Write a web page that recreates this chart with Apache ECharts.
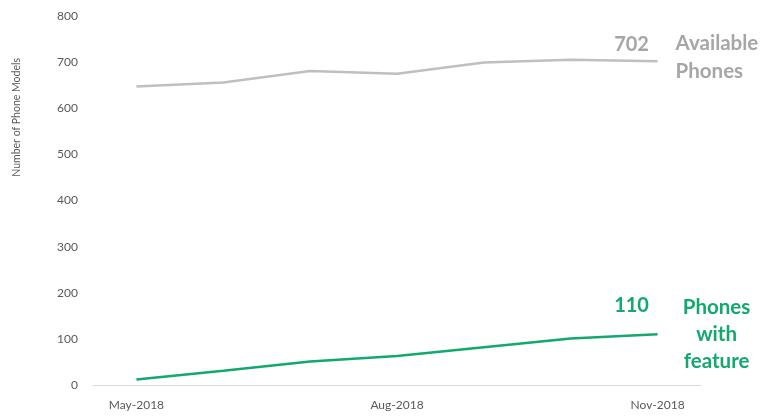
<!DOCTYPE html>
<html>
<head>
<meta charset="utf-8">
<script src="https://cdn.jsdelivr.net/npm/echarts@6/dist/echarts.min.js"></script>
<style>
html, body { margin: 0; padding: 0; background: #fff; }
#main { width: 767px; height: 419px; }
</style>
</head>
<body>
<div id="main"></div>
<script>
var months = ['May-2018', 'Jun-2018', 'Jul-2018', 'Aug-2018', 'Sep-2018', 'Oct-2018', 'Nov-2018'];
var available = [647, 656, 681, 675, 699, 705, 702];
var withFeature = [12, 31, 51, 63, 82, 101, 110];

var grey = '#bfbfbf';
var green = '#12a86e';
var font = 'Lato';

// number shown just above the last point of a series
function lastValueMark(arr, color, dy) {
    var i = arr.length - 1;
    return {
        symbol: 'circle',
        symbolSize: 0,
        silent: true,
        label: {
            show: true, position: 'top', offset: [-26, dy],
            color: color, fontFamily: font, fontWeight: 'bold', fontSize: 20
        },
        data: [{ coord: [months[i], arr[i]], value: arr[i] }]
    };
}

var myChart = echarts.init(document.getElementById('main'));
var option = {
    animation: false,
    grid: { left: 93, right: 66, top: 16, bottom: 34 },
    graphic: [{
        type: 'text',
        left: 11, top: 58,
        rotation: Math.PI / 2,
        style: {
            text: 'Number of Phone Models',
            fill: '#595959', fontFamily: font, fontSize: 10.5
        }
    }],
    xAxis: {
        type: 'category',
        data: months,
        axisLine: { lineStyle: { color: '#d9d9d9', width: 1 } },
        axisTick: { show: false },
        axisLabel: { interval: 2, color: '#595959', fontFamily: font, fontSize: 12, margin: 14 }
    },
    yAxis: {
        type: 'value',
        min: 0, max: 800, interval: 100,
        splitLine: { show: false },
        axisLine: { show: false },
        axisTick: { show: false },
        axisLabel: { color: '#595959', fontFamily: font, fontSize: 12, margin: 15 }
    },
    series: [{
        name: 'Available Phones',
        type: 'line',
        data: available,
        symbol: 'none',
        lineStyle: { color: grey, width: 2.5 },
        markPoint: lastValueMark(available, '#a6a6a6', -2),
        endLabel: {
            show: true, distance: 18, offset: [0, -4],
            formatter: 'Available\nPhones',
            color: '#a6a6a6', fontFamily: font, fontWeight: 'bold', fontSize: 20.5, lineHeight: 28
        }
    }, {
        name: 'Phones with feature',
        type: 'line',
        data: withFeature,
        symbol: 'none',
        lineStyle: { color: green, width: 2.5 },
        markPoint: lastValueMark(withFeature, green, -14),
        endLabel: {
            show: true, distance: 18, offset: [0, 0],
            formatter: '{t|Phones}\n{t|with}\n{t|feature}',
            rich: {
                t: { width: 82, align: 'center', color: green, fontFamily: font, fontWeight: 'bold', fontSize: 20.5, lineHeight: 27 }
            }
        }
    }]
};
myChart.setOption(option);
</script>
</body>
</html>
